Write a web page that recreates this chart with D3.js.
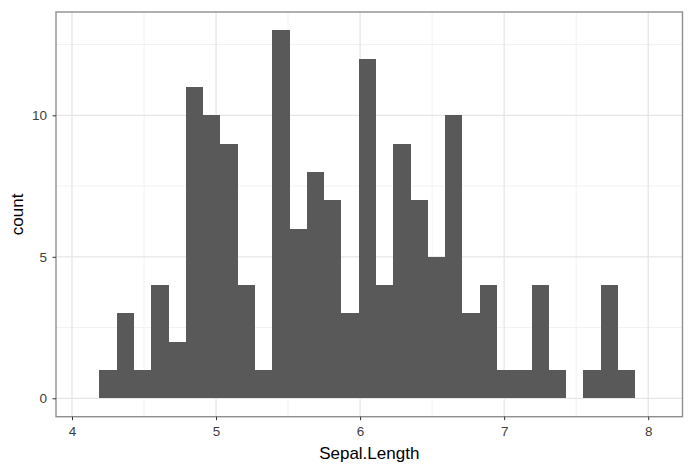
<!DOCTYPE html>
<html><head><meta charset="utf-8">
<script src="https://cdn.jsdelivr.net/npm/d3@7"></script>
<style>body{margin:0;background:#fff}svg{display:block}</style>
</head><body>
<svg id="c" width="688" height="466"></svg>
<script>
// Histogram bins (Sepal.Length), bin width 0.12
const binStart = 4.19;
const binWidth = 0.12;
const counts = [1,3,1,4,2,11,10,9,4,1,13,6,8,7,3,12,4,9,7,5,10,3,4,1,1,4,1,0,1,4,1];
const xTicks = [4,5,6,7,8];
const xMinor = [4.5,5.5,6.5,7.5];
const yTicks = [0,5,10];
const yMinor = [2.5,7.5,12.5];

const bins = counts.map((c,i)=>({x0: binStart + i*binWidth, x1: binStart + (i+1)*binWidth, n: c}));

const L = 56, R = 682.5, T = 12, B = 416.7;
const x = d3.scaleLinear().domain([3.889, 8.238]).range([L, R]);
const y = d3.scaleLinear().domain([-0.65, 13.65]).range([B, T]);

const svg = d3.select("#c");
const g = svg.append("g");
const FONT = "Arial, 'Liberation Sans', sans-serif";

// grid
g.selectAll(".xm").data(xMinor).join("line")
  .attr("x1",d=>x(d)).attr("x2",d=>x(d)).attr("y1",T).attr("y2",B)
  .attr("stroke","#f2f2f2").attr("stroke-width",1);
g.selectAll(".ym").data(yMinor).join("line")
  .attr("y1",d=>y(d)).attr("y2",d=>y(d)).attr("x1",L).attr("x2",R)
  .attr("stroke","#f2f2f2").attr("stroke-width",1);
g.selectAll(".xM").data(xTicks).join("line")
  .attr("x1",d=>x(d)).attr("x2",d=>x(d)).attr("y1",T).attr("y2",B)
  .attr("stroke","#e6e6e6").attr("stroke-width",1.3);
g.selectAll(".yM").data(yTicks).join("line")
  .attr("y1",d=>y(d)).attr("y2",d=>y(d)).attr("x1",L).attr("x2",R)
  .attr("stroke","#e6e6e6").attr("stroke-width",1.3);

// bars
g.selectAll(".bar").data(bins.filter(d=>d.n>0)).join("rect")
  .attr("x",d=>x(d.x0)).attr("width",d=>x(d.x1)-x(d.x0))
  .attr("y",d=>y(d.n)).attr("height",d=>y(0)-y(d.n))
  .attr("fill","#595959").attr("shape-rendering","crispEdges");

// border
g.append("rect").attr("x",L).attr("y",T).attr("width",R-L).attr("height",B-T)
  .attr("fill","none").attr("stroke","#8f8f8f").attr("stroke-width",1.4);

// axes
const xAxis = d3.axisBottom(x).tickValues(xTicks).tickSize(3.5).tickPadding(6.3).tickFormat(d3.format("d"));
const yAxis = d3.axisLeft(y).tickValues(yTicks).tickSize(3.5).tickPadding(5.5).tickFormat(d3.format("d"));
const ax = svg.append("g").attr("transform",`translate(0,${B})`).call(xAxis);
const ay = svg.append("g").attr("transform",`translate(${L},0)`).call(yAxis);
[ax,ay].forEach(a=>{
  a.select(".domain").remove();
  a.selectAll(".tick line").attr("stroke","#333").attr("stroke-width",1);
  a.selectAll(".tick text").attr("fill","#3d3d3d").style("font-family",FONT).style("font-size","13.5px");
});

svg.append("text").attr("x",(L+R)/2).attr("y",459)
  .attr("text-anchor","middle").attr("fill","#000")
  .style("font-family",FONT).style("font-size","17px")
  .text("Sepal.Length");
svg.append("text").attr("transform",`translate(22.5,${(T+B)/2}) rotate(-90)`)
  .attr("text-anchor","middle").attr("fill","#000")
  .style("font-family",FONT).style("font-size","17px")
  .text("count");
</script>
</body></html>
